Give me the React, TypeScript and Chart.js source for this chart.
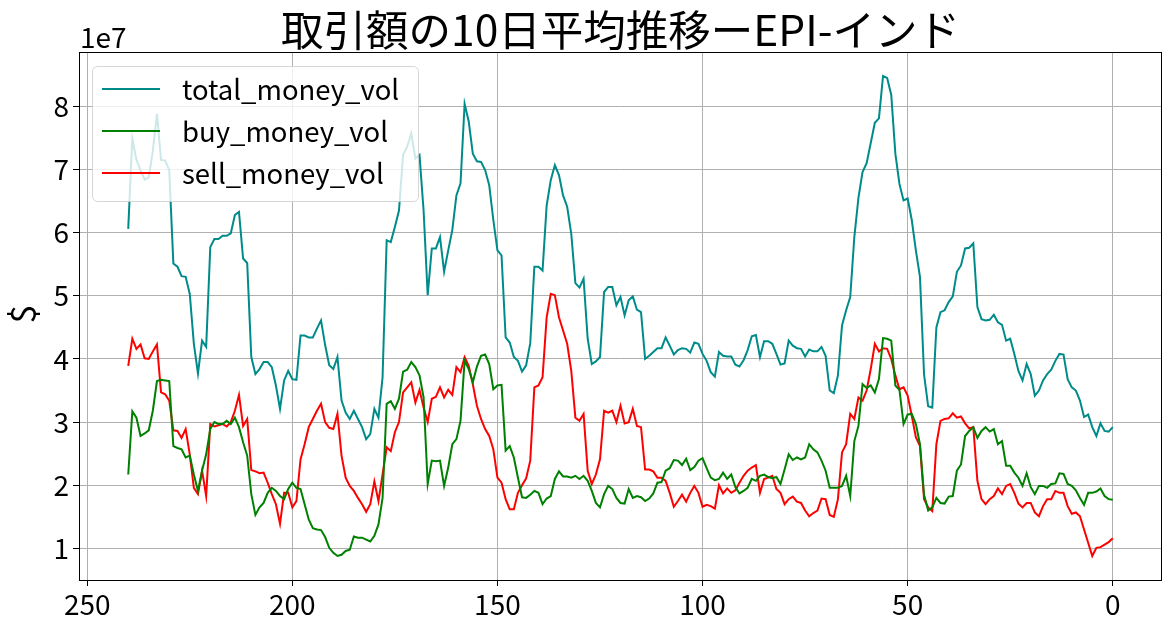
import { useEffect, useRef } from "react";
import { Chart, ChartOptions, Plugin, registerables } from "chart.js";

Chart.register(...registerables);

// values are in units of 1e7 (the axis shows the "1e7" offset), first value is day 240, last is day 0
const FIRST_DAY = 240;

const totalMoneyVol = [
  6.06, 7.49, 7.15, 6.99, 6.84, 6.87, 7.30, 7.88, 7.15, 7.14,
  6.99, 5.51, 5.46, 5.31, 5.30, 5.03, 4.24, 3.77, 4.29, 4.19,
  5.77, 5.90, 5.90, 5.95, 5.95, 5.99, 6.28, 6.33, 5.59, 5.52,
  4.03, 3.76, 3.84, 3.95, 3.95, 3.87, 3.58, 3.21, 3.66, 3.81,
  3.68, 3.67, 4.37, 4.37, 4.34, 4.34, 4.48, 4.61, 4.22, 3.90,
  3.84, 4.03, 3.34, 3.15, 3.05, 3.18, 3.05, 2.92, 2.73, 2.81,
  3.21, 3.07, 3.71, 5.88, 5.85, 6.09, 6.35, 7.23, 7.36, 7.57,
  7.17, 7.23, 6.35, 5.01, 5.75, 5.75, 5.93, 5.38, 5.72, 6.04,
  6.59, 6.78, 8.04, 7.76, 7.25, 7.13, 7.12, 6.99, 6.75, 6.20,
  5.72, 5.64, 4.34, 4.26, 4.03, 3.97, 3.80, 3.90, 4.25, 5.46,
  5.46, 5.40, 6.43, 6.83, 7.07, 6.91, 6.59, 6.41, 5.98, 5.20,
  5.13, 5.27, 4.32, 3.92, 3.96, 4.03, 5.06, 5.14, 5.14, 4.85,
  4.98, 4.69, 4.93, 4.99, 4.78, 4.74, 4.00, 4.05, 4.11, 4.17,
  4.17, 4.34, 4.21, 4.07, 4.14, 4.17, 4.16, 4.10, 4.26, 4.24,
  4.08, 3.97, 3.79, 3.72, 4.11, 4.05, 4.04, 4.04, 3.91, 3.88,
  3.98, 4.14, 4.36, 4.38, 4.03, 4.28, 4.28, 4.24, 4.08, 3.91,
  3.93, 4.29, 4.21, 4.17, 4.16, 4.04, 4.15, 4.12, 4.12, 4.19,
  4.05, 3.50, 3.46, 3.74, 4.53, 4.77, 4.98, 5.93, 6.55, 6.96,
  7.10, 7.42, 7.74, 7.81, 8.48, 8.45, 8.18, 7.25, 6.77, 6.51,
  6.54, 6.20, 5.72, 5.30, 3.75, 3.25, 3.23, 4.50, 4.74, 4.77,
  4.90, 4.99, 5.38, 5.48, 5.75, 5.76, 5.83, 4.82, 4.63, 4.61,
  4.62, 4.70, 4.58, 4.54, 4.29, 4.32, 4.08, 3.81, 3.66, 3.92,
  3.76, 3.42, 3.50, 3.66, 3.76, 3.83, 3.97, 4.08, 4.07, 3.68,
  3.55, 3.50, 3.34, 3.08, 3.12, 2.92, 2.78, 2.98, 2.86, 2.85,
  2.92,
];

const buyMoneyVol = [
  2.17, 3.17, 3.07, 2.78, 2.82, 2.87, 3.18, 3.65, 3.67, 3.66,
  3.65, 2.62, 2.59, 2.57, 2.44, 2.47, 2.17, 1.91, 2.23, 2.49,
  2.89, 3.00, 2.97, 2.97, 3.02, 2.97, 3.07, 2.92, 2.68, 2.47,
  1.86, 1.53, 1.65, 1.72, 1.88, 1.96, 1.91, 1.83, 1.78, 1.94,
  2.04, 1.96, 1.94, 1.70, 1.46, 1.32, 1.30, 1.29, 1.18, 1.01,
  0.93, 0.88, 0.90, 0.96, 0.98, 1.19, 1.17, 1.17, 1.14, 1.11,
  1.20, 1.38, 1.80, 3.29, 3.33, 3.21, 3.37, 3.80, 3.83, 3.95,
  3.87, 3.74, 3.39, 2.02, 2.39, 2.38, 2.39, 1.99, 2.28, 2.65,
  2.73, 3.02, 3.97, 3.84, 3.63, 3.88, 4.05, 4.07, 3.92, 3.52,
  3.58, 3.59, 2.55, 2.62, 2.44, 2.12, 1.81, 1.80, 1.85, 1.91,
  1.88, 1.70, 1.79, 1.83, 2.10, 2.22, 2.14, 2.14, 2.12, 2.15,
  2.10, 2.15, 2.07, 1.91, 1.72, 1.65, 1.86, 1.99, 1.94, 1.80,
  1.72, 1.71, 1.94, 1.80, 1.83, 1.81, 1.75, 1.79, 1.87, 2.04,
  2.05, 2.23, 2.27, 2.40, 2.39, 2.32, 2.42, 2.24, 2.29, 2.39,
  2.43, 2.27, 2.12, 2.08, 2.10, 2.20, 2.10, 2.17, 1.97, 1.87,
  1.91, 1.96, 2.10, 2.07, 2.15, 2.17, 2.13, 2.11, 2.13, 2.02,
  2.25, 2.49, 2.40, 2.44, 2.41, 2.44, 2.65, 2.57, 2.52, 2.39,
  2.23, 1.96, 1.96, 1.96, 1.99, 2.15, 1.83, 2.70, 2.94, 3.60,
  3.54, 3.58, 3.47, 3.68, 4.33, 4.32, 4.29, 3.58, 3.51, 2.97,
  3.12, 3.13, 2.97, 2.65, 1.85, 1.60, 1.65, 1.80, 1.72, 1.71,
  1.82, 1.83, 2.23, 2.33, 2.78, 2.86, 2.92, 2.75, 2.86, 2.92,
  2.85, 2.89, 2.65, 2.70, 2.31, 2.31, 2.20, 2.12, 1.99, 2.19,
  1.97, 1.86, 1.99, 1.99, 1.96, 2.02, 2.03, 2.19, 2.18, 2.02,
  1.99, 1.92, 1.80, 1.69, 1.88, 1.88, 1.90, 1.95, 1.83, 1.78,
  1.77,
];

const sellMoneyVol = [
  3.89, 4.32, 4.16, 4.23, 4.01, 4.00, 4.12, 4.23, 3.47, 3.44,
  3.34, 2.87, 2.86, 2.75, 2.89, 2.49, 1.96, 1.86, 2.23, 1.83,
  2.97, 2.93, 2.95, 2.97, 2.93, 3.00, 3.18, 3.43, 2.94, 3.05,
  2.24, 2.22, 2.19, 2.20, 2.04, 1.86, 1.70, 1.39, 1.88, 1.88,
  1.65, 1.75, 2.41, 2.65, 2.92, 3.05, 3.18, 3.29, 3.00, 2.91,
  2.89, 3.13, 2.47, 2.12, 1.99, 1.91, 1.80, 1.70, 1.58, 1.70,
  2.06, 1.75, 2.17, 2.60, 2.54, 2.84, 3.00, 3.47, 3.55, 3.63,
  3.31, 3.51, 3.23, 3.00, 3.37, 3.40, 3.55, 3.39, 3.51, 3.43,
  3.87, 3.79, 4.03, 3.89, 3.60, 3.26, 3.05, 2.89, 2.78, 2.57,
  2.12, 2.04, 1.78, 1.62, 1.62, 1.88, 2.00, 2.11, 2.39, 3.55,
  3.58, 3.71, 4.66, 5.03, 5.01, 4.66, 4.45, 4.24, 3.81, 3.07,
  3.02, 3.13, 2.23, 2.02, 2.17, 2.41, 3.18, 3.15, 3.18, 3.00,
  3.26, 2.98, 3.00, 3.21, 2.94, 2.92, 2.25, 2.25, 2.22, 2.12,
  2.12, 2.07, 1.88, 1.66, 1.75, 1.85, 1.74, 1.88, 1.99, 1.88,
  1.66, 1.69, 1.67, 1.63, 2.00, 1.87, 1.95, 1.88, 1.92, 2.04,
  2.15, 2.23, 2.28, 2.32, 1.88, 2.10, 2.12, 2.15, 1.94, 1.88,
  1.70, 1.78, 1.82, 1.74, 1.72, 1.60, 1.51, 1.56, 1.60, 1.79,
  1.78, 1.53, 1.50, 1.78, 2.52, 2.65, 3.13, 3.05, 3.39, 3.34,
  3.50, 3.84, 4.24, 4.12, 4.17, 4.16, 4.00, 3.74, 3.52, 3.55,
  3.42, 3.10, 2.76, 2.62, 1.78, 1.65, 1.59, 2.65, 3.02, 3.05,
  3.06, 3.14, 3.07, 3.09, 2.98, 2.90, 2.92, 2.07, 1.78, 1.70,
  1.78, 1.83, 1.95, 1.86, 1.99, 2.02, 1.88, 1.71, 1.65, 1.72,
  1.72, 1.57, 1.51, 1.67, 1.78, 1.78, 1.91, 1.88, 1.88, 1.67,
  1.55, 1.57, 1.51, 1.30, 1.09, 0.88, 1.01, 1.02, 1.06, 1.10,
  1.16,
];

const xTickValues = [250, 200, 150, 100, 50, 0];
const yTickValues = [1, 2, 3, 4, 5, 6, 7, 8];

const TITLE = "取引額の10日平均推移ーEPI-インド";
const Y_LABEL = "$";
const Y_OFFSET_LABEL = "1e7";
const FONT = "'Noto Sans CJK JP', 'Noto Sans', sans-serif";

const seriesInfo = [
  { label: "total_money_vol", color: "#008b8b", values: totalMoneyVol },
  { label: "buy_money_vol", color: "#008000", values: buyMoneyVol },
  { label: "sell_money_vol", color: "#ff0000", values: sellMoneyVol },
];

// draws title, offset text, y label, frame and the in-axes legend
const decorPlugin: Plugin<"line"> = {
  id: "decor",
  afterDatasetsDraw(chart) {
    const { ctx, chartArea } = chart;
    const { left, right, top, bottom } = chartArea;
    ctx.save();

    // frame
    ctx.strokeStyle = "#000";
    ctx.lineWidth = 1;
    ctx.strokeRect(Math.round(left) + 0.5, Math.round(top) + 0.5, Math.round(right - left) - 1, Math.round(bottom - top));

    // legend
    const bx = 92, by = 66, bw = 326, bh = 135;
    ctx.beginPath();
    ctx.roundRect(bx + 0.5, by + 0.5, bw, bh, 5);
    ctx.fillStyle = "rgba(255,255,255,0.8)";
    ctx.fill();
    ctx.strokeStyle = "rgba(204,204,204,0.8)";
    ctx.lineWidth = 1;
    ctx.stroke();
    ctx.font = `27.5px ${FONT}`;
    ctx.textBaseline = "middle";
    ctx.textAlign = "left";
    seriesInfo.forEach((s, k) => {
      const y = by + 23 + k * 42;
      ctx.strokeStyle = s.color;
      ctx.lineWidth = 2;
      ctx.beginPath();
      ctx.moveTo(102, y);
      ctx.lineTo(160, y);
      ctx.stroke();
      ctx.fillStyle = "#000";
      ctx.fillText(s.label, 182, y + 1);
    });

    // title
    ctx.fillStyle = "#000";
    ctx.font = `42.5px ${FONT}`;
    ctx.textAlign = "center";
    ctx.textBaseline = "middle";
    ctx.fillText(TITLE, (left + right) / 2, 30);

    // 1e7 offset
    ctx.font = `28px ${FONT}`;
    ctx.textAlign = "left";
    ctx.textBaseline = "alphabetic";
    ctx.fillText(Y_OFFSET_LABEL, 80, 48);

    // y label
    ctx.translate(23, (top + bottom) / 2 - 2);
    ctx.rotate(-Math.PI / 2);
    ctx.font = `34px ${FONT}`;
    ctx.textAlign = "center";
    ctx.textBaseline = "middle";
    ctx.fillText(Y_LABEL, 0, 0);

    ctx.restore();
  },
};

export default function App() {
  const chartRef = useRef<HTMLCanvasElement>(null);
  const chartInstance = useRef<Chart<"line"> | null>(null);

  useEffect(() => {
    document.body.style.margin = "0";
    if (!chartRef.current) return;
    if (chartInstance.current) chartInstance.current.destroy();
    const ctx = chartRef.current.getContext("2d");
    if (!ctx) return;

    const options: ChartOptions<"line"> = {
      responsive: false,
      animation: false,
      layout: { padding: { left: 0, right: 11, top: 52, bottom: 0 } },
      plugins: {
        legend: { display: false },
        title: { display: false },
        tooltip: { enabled: false },
      },
      elements: {
        point: { radius: 0 },
        line: { tension: 0, borderWidth: 2 },
      },
      scales: {
        x: {
          type: "linear",
          reverse: true,
          min: -12,
          max: 252,
          afterBuildTicks: (scale) => {
            scale.ticks = xTickValues.map((v) => ({ value: v }));
          },
          afterFit: (scale) => {
            scale.height = 48;
          },
          border: { display: false },
          grid: {
            color: "#b0b0b0",
            lineWidth: 1,
            tickColor: "#000",
            tickLength: 6,
            tickWidth: 1,
          },
          ticks: {
            autoSkip: false,
            maxRotation: 0,
            padding: 2,
            color: "#000",
            font: { family: FONT, size: 28 },
          },
        },
        y: {
          type: "linear",
          min: 0.5,
          max: 8.86,
          afterBuildTicks: (scale) => {
            scale.ticks = yTickValues.map((v) => ({ value: v }));
          },
          afterFit: (scale) => {
            scale.width = 79;
          },
          border: { display: false },
          grid: {
            color: "#b0b0b0",
            lineWidth: 1,
            tickColor: "#000",
            tickLength: 6,
            tickWidth: 1,
          },
          ticks: {
            padding: 4,
            color: "#000",
            font: { family: FONT, size: 28 },
          },
        },
      },
    };

    chartInstance.current = new Chart(ctx, {
      type: "line",
      data: {
        datasets: seriesInfo.map((s) => ({
          label: s.label,
          data: s.values.map((v, k) => ({ x: FIRST_DAY - k, y: v })),
          borderColor: s.color,
          backgroundColor: s.color,
          fill: false,
        })),
      },
      options,
      plugins: [decorPlugin],
    });

    return () => {
      if (chartInstance.current) {
        chartInstance.current.destroy();
        chartInstance.current = null;
      }
    };
  }, []);

  return (
    <div style={{ width: 1173, height: 628 }}>
      <canvas ref={chartRef} width={1173} height={628}></canvas>
    </div>
  );
}
